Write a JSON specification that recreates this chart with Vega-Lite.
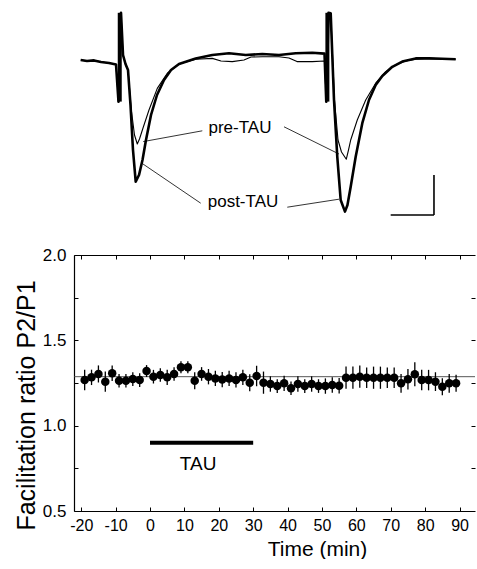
{
  "$schema": "https://vega.github.io/schema/vega-lite/v6.json",
  "padding": {"left": 14, "top": 0, "right": 0, "bottom": 0},
  "background": "white",
  "config": {
    "view": {"stroke": null},
    "font": "Liberation Sans",
    "axis": {"domainColor": "black", "tickColor": "black", "labelColor": "black", "titleColor": "black", "grid": false, "labelFont": "Liberation Sans", "titleFont": "Liberation Sans", "titleFontWeight": "normal"}
  },
  "datasets": {
    "post": [
      {"i":1,"t":1.56,"v":0.05},{"i":2,"t":3.02,"v":0.025},{"i":3,"t":4.65,"v":0.04},{"i":4,"t":6.28,"v":0.0},{"i":5,"t":8.14,"v":-0.025},{"i":6,"t":9.77,"v":-0.06},{"i":7,"t":10.35,"v":-0.99},{"i":8,"t":10.93,"v":1.23},{"i":9,"t":11.4,"v":0.175},{"i":10,"t":11.98,"v":-0.05},{"i":11,"t":12.56,"v":-0.2},{"i":12,"t":13.14,"v":-1.075},{"i":13,"t":13.72,"v":-2.2},{"i":14,"t":14.35,"v":-2.99},{"i":15,"t":15.12,"v":-2.825},{"i":16,"t":15.93,"v":-2.45},{"i":17,"t":16.74,"v":-1.95},{"i":18,"t":17.91,"v":-1.325},{"i":19,"t":19.3,"v":-0.825},{"i":20,"t":20.93,"v":-0.45},{"i":21,"t":22.56,"v":-0.2},{"i":22,"t":24.42,"v":-0.05},{"i":23,"t":28.3,"v":0.09},{"i":24,"t":32.16,"v":0.175},{"i":25,"t":36.05,"v":0.22},{"i":26,"t":39.93,"v":0.175},{"i":27,"t":43.79,"v":0.2},{"i":28,"t":47.67,"v":0.175},{"i":29,"t":51.56,"v":0.22},{"i":30,"t":55.42,"v":0.23},{"i":31,"t":58.26,"v":0.21},{"i":32,"t":58.67,"v":-0.99},{"i":33,"t":59.19,"v":1.23},{"i":34,"t":59.7,"v":1.22},{"i":35,"t":60.47,"v":-0.95},{"i":36,"t":61.23,"v":-2.37},{"i":37,"t":62.02,"v":-3.45},{"i":38,"t":63.02,"v":-3.74},{"i":39,"t":63.6,"v":-3.575},{"i":40,"t":64.35,"v":-3.12},{"i":41,"t":65.51,"v":-2.37},{"i":42,"t":67.05,"v":-1.53},{"i":43,"t":68.6,"v":-0.95},{"i":44,"t":70.16,"v":-0.575},{"i":45,"t":71.7,"v":-0.35},{"i":46,"t":74.02,"v":-0.12},{"i":47,"t":76.35,"v":0.01},{"i":48,"t":79.47,"v":0.09},{"i":49,"t":82.56,"v":0.09},{"i":50,"t":85.58,"v":0.08},{"i":51,"t":88.77,"v":0.07}
    ],
    "pre": [
      {"i":1,"t":1.56,"v":0.05},{"i":2,"t":3.02,"v":0.025},{"i":3,"t":4.65,"v":0.04},{"i":4,"t":6.28,"v":0.0},{"i":5,"t":8.14,"v":-0.025},{"i":6,"t":9.77,"v":-0.06},{"i":7,"t":10.35,"v":-0.99},{"i":8,"t":10.93,"v":1.23},{"i":9,"t":11.4,"v":0.175},{"i":10,"t":11.98,"v":-0.05},{"i":11,"t":12.56,"v":-0.2},{"i":12,"t":13.33,"v":-1.2},{"i":13,"t":14.07,"v":-1.825},{"i":14,"t":14.72,"v":-2.05},{"i":15,"t":15.23,"v":-1.925},{"i":16,"t":16.05,"v":-1.65},{"i":17,"t":17.44,"v":-1.2},{"i":18,"t":19.37,"v":-0.66},{"i":19,"t":21.7,"v":-0.28},{"i":20,"t":24.42,"v":-0.05},{"i":21,"t":28.3,"v":0.07},{"i":22,"t":32.16,"v":0.09},{"i":23,"t":34.19,"v":0.025},{"i":24,"t":36.81,"v":0.01},{"i":25,"t":39.53,"v":0.05},{"i":26,"t":41.16,"v":0.125},{"i":27,"t":43.79,"v":0.13},{"i":28,"t":47.67,"v":0.13},{"i":29,"t":50.0,"v":0.1},{"i":30,"t":51.86,"v":0.01},{"i":31,"t":55.42,"v":0.01},{"i":32,"t":58.26,"v":0.025},{"i":33,"t":58.67,"v":-0.99},{"i":34,"t":59.19,"v":1.23},{"i":35,"t":59.7,"v":1.22},{"i":36,"t":60.58,"v":-0.95},{"i":37,"t":61.4,"v":-1.95},{"i":38,"t":62.21,"v":-2.25},{"i":39,"t":63.33,"v":-2.43},{"i":40,"t":63.84,"v":-2.2},{"i":41,"t":64.35,"v":-1.95},{"i":42,"t":65.88,"v":-1.45},{"i":43,"t":67.84,"v":-0.95},{"i":44,"t":70.16,"v":-0.53},{"i":45,"t":72.49,"v":-0.24},{"i":46,"t":74.81,"v":-0.075},{"i":47,"t":77.14,"v":0.025},{"i":48,"t":79.47,"v":0.07},{"i":49,"t":82.56,"v":0.09},{"i":50,"t":85.58,"v":0.08},{"i":51,"t":88.77,"v":0.07}
    ],
    "art": [{"t":10.64,"v":-0.99,"v2":1.23},{"t":58.93,"v":-0.99,"v2":1.23}],
    "conn": [
      {"t":29.84,"v":-1.72,"t2":16.1,"v2":-1.99},
      {"t":48.84,"v":-1.62,"t2":61.63,"v2":-2.3},
      {"t":29.47,"v":-3.53,"t2":16.05,"v2":-2.55},
      {"t":49.6,"v":-3.63,"t2":61.63,"v2":-3.43}
    ],
    "lab": [{"t":38.6,"v":-1.65,"label":"pre-TAU"},{"t":39.3,"v":-3.5,"label":"post-TAU"}],
    "bar": [{"t":73.65,"v":-3.825,"t2":83.72,"v2":-3.825},{"t":83.72,"v":-2.825,"t2":83.72,"v2":-3.825}],
    "fac": [
      {"t":-19,"r":1.267,"e":0.06},{"t":-17,"r":1.283,"e":0.045},{"t":-15,"r":1.303,"e":0.05},{"t":-13,"r":1.258,"e":0.06},{"t":-11,"r":1.307,"e":0.045},{"t":-9,"r":1.263,"e":0.04},{"t":-7,"r":1.263,"e":0.04},{"t":-5,"r":1.273,"e":0.04},{"t":-3,"r":1.267,"e":0.04},{"t":-1,"r":1.32,"e":0.035},{"t":1,"r":1.287,"e":0.04},{"t":3,"r":1.297,"e":0.04},{"t":5,"r":1.283,"e":0.045},{"t":7,"r":1.303,"e":0.04},{"t":9,"r":1.342,"e":0.035},{"t":11,"r":1.342,"e":0.035},{"t":13,"r":1.263,"e":0.05},{"t":15,"r":1.303,"e":0.04},{"t":17,"r":1.287,"e":0.045},{"t":19,"r":1.277,"e":0.045},{"t":21,"r":1.27,"e":0.045},{"t":23,"r":1.277,"e":0.045},{"t":25,"r":1.268,"e":0.045},{"t":27,"r":1.283,"e":0.045},{"t":29,"r":1.252,"e":0.05},{"t":31,"r":1.291,"e":0.06},{"t":33,"r":1.252,"e":0.065},{"t":35,"r":1.244,"e":0.045},{"t":37,"r":1.232,"e":0.04},{"t":39,"r":1.248,"e":0.045},{"t":41,"r":1.219,"e":0.04},{"t":43,"r":1.244,"e":0.045},{"t":45,"r":1.232,"e":0.04},{"t":47,"r":1.244,"e":0.045},{"t":49,"r":1.232,"e":0.04},{"t":51,"r":1.232,"e":0.045},{"t":53,"r":1.238,"e":0.045},{"t":55,"r":1.234,"e":0.045},{"t":57,"r":1.281,"e":0.065},{"t":59,"r":1.281,"e":0.065},{"t":61,"r":1.287,"e":0.065},{"t":63,"r":1.281,"e":0.06},{"t":65,"r":1.281,"e":0.065},{"t":67,"r":1.281,"e":0.065},{"t":69,"r":1.281,"e":0.06},{"t":71,"r":1.281,"e":0.06},{"t":73,"r":1.248,"e":0.055},{"t":75,"r":1.272,"e":0.06},{"t":77,"r":1.301,"e":0.07},{"t":79,"r":1.267,"e":0.06},{"t":81,"r":1.267,"e":0.06},{"t":83,"r":1.258,"e":0.055},{"t":85,"r":1.228,"e":0.05},{"t":87,"r":1.248,"e":0.055},{"t":89,"r":1.248,"e":0.05}
    ],
    "tau": [{"start":0,"end":30,"y":0.9,"lx":14,"ly":0.775,"label":"TAU"}]
  },
  "vconcat": [
    {
      "width": 401,
      "height": 230,
      "layer": [
        {
          "data": {"name": "post"},
          "mark": {"type": "line", "color": "black", "strokeWidth": 2.6, "strokeJoin": "round"},
          "encoding": {
            "x": {"field": "t", "type": "quantitative", "scale": {"domain": [0, 93.26], "nice": false, "zero": false}, "axis": null},
            "y": {"field": "v", "type": "quantitative", "scale": {"domain": [-4.2, 1.55], "nice": false, "zero": false}, "axis": null},
            "order": {"field": "i", "type": "quantitative"}
          }
        },
        {
          "data": {"name": "pre"},
          "mark": {"type": "line", "color": "black", "strokeWidth": 1.1, "strokeJoin": "round"},
          "encoding": {
            "x": {"field": "t", "type": "quantitative", "scale": {"domain": [0, 93.26], "nice": false, "zero": false}, "axis": null},
            "y": {"field": "v", "type": "quantitative", "scale": {"domain": [-4.2, 1.55], "nice": false, "zero": false}, "axis": null},
            "order": {"field": "i", "type": "quantitative"}
          }
        },
        {
          "data": {"name": "art"},
          "mark": {"type": "rule", "color": "black", "strokeWidth": 4},
          "encoding": {
            "x": {"field": "t", "type": "quantitative", "scale": {"domain": [0, 93.26], "nice": false, "zero": false}, "axis": null},
            "y": {"field": "v", "type": "quantitative", "scale": {"domain": [-4.2, 1.55], "nice": false, "zero": false}, "axis": null},
            "y2": {"field": "v2"}
          }
        },
        {
          "data": {"name": "conn"},
          "mark": {"type": "rule", "color": "black", "strokeWidth": 0.8},
          "encoding": {
            "x": {"field": "t", "type": "quantitative", "scale": {"domain": [0, 93.26], "nice": false, "zero": false}, "axis": null},
            "y": {"field": "v", "type": "quantitative", "scale": {"domain": [-4.2, 1.55], "nice": false, "zero": false}, "axis": null},
            "x2": {"field": "t2"},
            "y2": {"field": "v2"}
          }
        },
        {
          "data": {"name": "bar"},
          "mark": {"type": "rule", "color": "black", "strokeWidth": 1.6},
          "encoding": {
            "x": {"field": "t", "type": "quantitative", "scale": {"domain": [0, 93.26], "nice": false, "zero": false}, "axis": null},
            "y": {"field": "v", "type": "quantitative", "scale": {"domain": [-4.2, 1.55], "nice": false, "zero": false}, "axis": null},
            "x2": {"field": "t2"},
            "y2": {"field": "v2"}
          }
        },
        {
          "data": {"name": "lab"},
          "mark": {"type": "text", "color": "black", "fontSize": 17, "font": "Liberation Sans", "align": "center", "baseline": "middle"},
          "encoding": {
            "x": {"field": "t", "type": "quantitative", "scale": {"domain": [0, 93.26], "nice": false, "zero": false}, "axis": null},
            "y": {"field": "v", "type": "quantitative", "scale": {"domain": [-4.2, 1.55], "nice": false, "zero": false}, "axis": null},
            "text": {"field": "label"}
          }
        }
      ]
    },
    {
      "width": 401,
      "height": 256,
      "layer": [
        {
          "data": {"values": [{}]},
          "mark": {"type": "rule", "color": "#444", "strokeWidth": 0.9},
          "encoding": {
            "y": {"datum": 1.287, "type": "quantitative", "scale": {"domain": [0.5, 2.0], "nice": false, "zero": false}, "axis": null}
          }
        },
        {
          "data": {"name": "fac"},
          "mark": {"type": "errorbar", "color": "black", "thickness": 1.3},
          "encoding": {
            "x": {"field": "t", "type": "quantitative", "scale": {"domain": [-22.1, 94.5], "nice": false, "zero": false}, "axis": null},
            "y": {"field": "r", "type": "quantitative", "scale": {"domain": [0.5, 2.0], "nice": false, "zero": false}, "axis": null},
            "yError": {"field": "e"}
          }
        },
        {
          "data": {"name": "fac"},
          "mark": {"type": "circle", "color": "black", "size": 72, "opacity": 1},
          "encoding": {
            "x": {"field": "t", "type": "quantitative", "scale": {"domain": [-22.1, 94.5], "nice": false, "zero": false},
              "axis": {"orient": "bottom", "values": [-20,-10,0,10,20,30,40,50,60,70,80,90], "labelExpr": "'' + datum.value", "tickSize": -4, "labelPadding": 10, "labelFontSize": 16, "labelFlush": false, "domainWidth": 1.2, "title": "Time (min)", "titleFontSize": 21, "titleX": 243, "titleY": 38, "titleBaseline": "middle", "titleAlign": "center"}},
            "y": {"field": "r", "type": "quantitative", "scale": {"domain": [0.5, 2.0], "nice": false, "zero": false},
              "axis": {"orient": "left", "values": [0.5,0.75,1.0,1.25,1.5,1.75,2.0], "tickSize": -4, "labelPadding": 12, "labelFontSize": 17, "labelExpr": "datum.value % 0.5 == 0 ? format(datum.value, '.1f') : ''", "domainWidth": 1.2, "title": "Facilitation ratio P2/P1", "titleFontSize": 25, "titleAngle": -90, "titleX": -48, "titleY": 150, "titleBaseline": "middle", "titleAlign": "center"}}
          }
        },
        {
          "data": {"name": "fac"},
          "mark": {"type": "point", "opacity": 0},
          "encoding": {
            "x": {"field": "t", "type": "quantitative", "scale": {"domain": [-22.1, 94.5], "nice": false, "zero": false},
              "axis": {"orient": "top", "values": [-20,-10,0,10,20,30,40,50,60,70,80,90], "tickSize": -4, "labels": false, "domainWidth": 1.2, "title": null}},
            "y": {"field": "r", "type": "quantitative", "scale": {"domain": [0.5, 2.0], "nice": false, "zero": false},
              "axis": {"orient": "right", "values": [0.75,1.0,1.25,1.5,1.75], "tickSize": -4, "labels": false, "domain": false, "title": null}}
          }
        },
        {
          "data": {"name": "tau"},
          "mark": {"type": "rule", "color": "black", "strokeWidth": 3.8},
          "encoding": {
            "x": {"field": "start", "type": "quantitative", "scale": {"domain": [-22.1, 94.5], "nice": false, "zero": false}, "axis": null},
            "x2": {"field": "end"},
            "y": {"field": "y", "type": "quantitative", "scale": {"domain": [0.5, 2.0], "nice": false, "zero": false}, "axis": null}
          }
        },
        {
          "data": {"name": "tau"},
          "mark": {"type": "text", "color": "black", "fontSize": 19, "font": "Liberation Sans", "align": "center", "baseline": "middle"},
          "encoding": {
            "x": {"field": "lx", "type": "quantitative", "scale": {"domain": [-22.1, 94.5], "nice": false, "zero": false}, "axis": null},
            "y": {"field": "ly", "type": "quantitative", "scale": {"domain": [0.5, 2.0], "nice": false, "zero": false}, "axis": null},
            "text": {"field": "label"}
          }
        }
      ]
    }
  ],
  "spacing": 25,
  "bounds": "flush"
}
